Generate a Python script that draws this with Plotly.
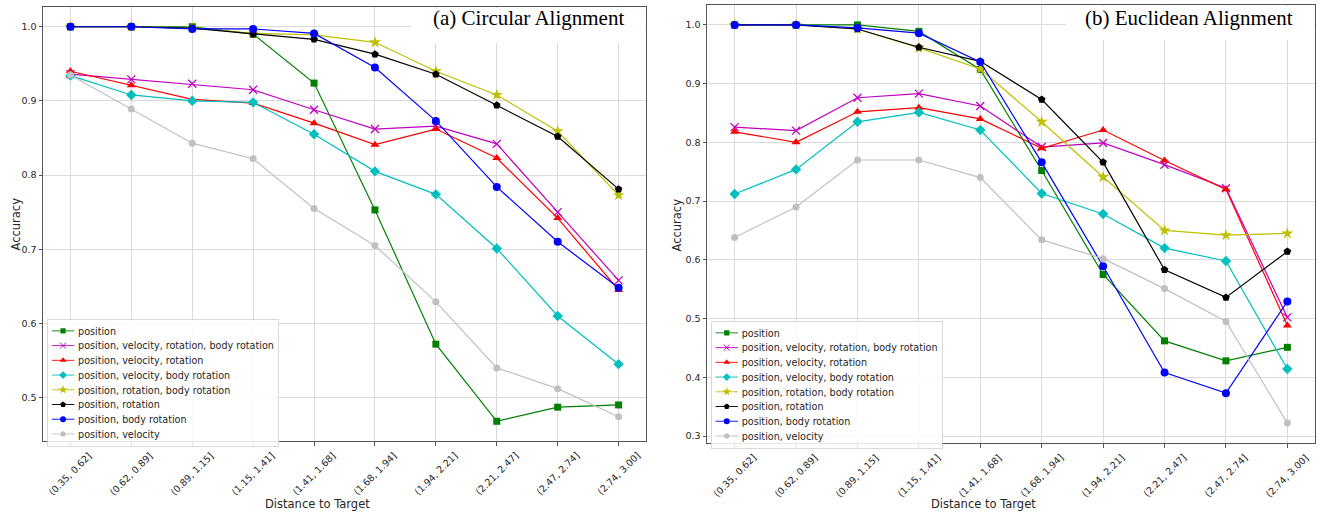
import plotly.graph_objects as go

categories = ["(0.35, 0.62]", "(0.62, 0.89]", "(0.89, 1.15]", "(1.15, 1.41]", "(1.41, 1.68]",
              "(1.68, 1.94]", "(1.94, 2.21]", "(2.21, 2.47]", "(2.47, 2.74]", "(2.74, 3.00]"]

series_names = ["position",
                "position, velocity, rotation, body rotation",
                "position, velocity, rotation",
                "position, velocity, body rotation",
                "position, rotation, body rotation",
                "position, rotation",
                "position, body rotation",
                "position, velocity"]

# (a) Circular Alignment
circ_position = [1.0, 1.0, 1.0, 0.990, 0.924, 0.753, 0.572, 0.468, 0.487, 0.490]
circ_pvrb = [0.936, 0.929, 0.923, 0.915, 0.888, 0.862, 0.866, 0.842, 0.750, 0.658]
circ_pvr = [0.940, 0.921, 0.902, 0.897, 0.870, 0.841, 0.862, 0.823, 0.742, 0.645]
circ_pvb = [0.934, 0.908, 0.900, 0.898, 0.855, 0.805, 0.774, 0.701, 0.610, 0.545]
circ_prb = [1.0, 1.0, 0.998, 0.991, 0.989, 0.979, 0.940, 0.908, 0.859, 0.773]
circ_pr = [1.0, 1.0, 0.998, 0.990, 0.983, 0.963, 0.936, 0.894, 0.852, 0.781]
circ_pb = [1.0, 1.0, 0.997, 0.997, 0.991, 0.945, 0.873, 0.784, 0.710, 0.648]
circ_pv = [0.935, 0.889, 0.843, 0.822, 0.755, 0.705, 0.629, 0.540, 0.512, 0.474]

# (b) Euclidean Alignment
eucl_position = [1.0, 1.0, 1.0, 0.989, 0.924, 0.752, 0.575, 0.462, 0.428, 0.451]
eucl_pvrb = [0.826, 0.820, 0.876, 0.883, 0.862, 0.792, 0.799, 0.762, 0.722, 0.502]
eucl_pvr = [0.818, 0.800, 0.852, 0.859, 0.840, 0.790, 0.821, 0.769, 0.720, 0.488]
eucl_pvb = [0.712, 0.754, 0.835, 0.851, 0.821, 0.713, 0.678, 0.620, 0.598, 0.414]
eucl_prb = [1.0, 1.0, 0.993, 0.961, 0.925, 0.835, 0.741, 0.650, 0.642, 0.645]
eucl_pr = [1.0, 1.0, 0.993, 0.962, 0.938, 0.873, 0.766, 0.583, 0.536, 0.614]
eucl_pb = [1.0, 1.0, 0.995, 0.986, 0.937, 0.766, 0.589, 0.408, 0.373, 0.529]
eucl_pv = [0.638, 0.690, 0.770, 0.770, 0.740, 0.634, 0.602, 0.551, 0.495, 0.322]

panel_titles = ["(a) Circular Alignment", "(b) Euclidean Alignment"]
x_title = "Distance to Target"
y_title = "Accuracy"

circ_series = [circ_position, circ_pvrb, circ_pvr, circ_pvb, circ_prb, circ_pr, circ_pb, circ_pv]
eucl_series = [eucl_position, eucl_pvrb, eucl_pvr, eucl_pvb, eucl_prb, eucl_pr, eucl_pb, eucl_pv]

colors = ["#008000", "#bf00bf", "#ff0000", "#00bfbf", "#bfbf00", "#000000", "#0000ff", "#c0c0c0"]
symbols = ["square", "x-thin-open", "triangle-up", "diamond", "star", "pentagon", "circle", "circle"]
sizes = [7, 8, 8, 8, 9, 8, 8, 7]

W, H = 1320, 514
FONT = "DejaVu Sans"
SPINE = "#555555"
GRID = "#dadada"
TXT = "#262626"

fig = go.Figure()

panels = [
    dict(series=circ_series, xa="x", ya="y", legend="legend"),
    dict(series=eucl_series, xa="x2", ya="y2", legend="legend2"),
]
for p in panels:
    for name, vals, c, s, sz in zip(series_names, p["series"], colors, symbols, sizes):
        is_open = s.endswith("open")
        fig.add_trace(go.Scatter(
            x=categories, y=vals, name=name, mode="lines+markers",
            xaxis=p["xa"], yaxis=p["ya"], legend=p["legend"],
            line=dict(color=c, width=1.2),
            marker=dict(symbol=s, size=sz, color=c,
                        line=dict(color=c, width=1.3 if is_open else 0)),
        ))

def px_x(v):
    return v / W

def px_y(v):
    return (H - v) / H

ax_common = dict(showline=True, mirror=True, linecolor=SPINE, linewidth=1,
                 showgrid=True, gridcolor=GRID, gridwidth=1, zeroline=False,
                 ticks="outside", ticklen=3.5, tickwidth=1, tickcolor=SPINE,
                 tickfont=dict(family=FONT, size=9.5, color=TXT))

L1 = (43, 646, 7, 441)   # left, right, top, bottom in px
L2 = (707, 1315, 5, 443)

fig.update_layout(
    width=W, height=H, autosize=False,
    margin=dict(l=0, r=0, t=0, b=0, pad=0),
    paper_bgcolor="white", plot_bgcolor="white",
    font=dict(family=FONT, color=TXT),
    xaxis=dict(ax_common, domain=[px_x(L1[0]), px_x(L1[1])], anchor="y",
               type="category", range=[-0.45, 9.45], showticklabels=False),
    yaxis=dict(ax_common, domain=[px_y(L1[3]), px_y(L1[2])], anchor="x",
               range=[0.4414, 1.0266], dtick=0.1, tick0=0, tickformat=".1f"),
    xaxis2=dict(ax_common, domain=[px_x(L2[0]), px_x(L2[1])], anchor="y2",
                type="category", range=[-0.45, 9.45], showticklabels=False),
    yaxis2=dict(ax_common, domain=[px_y(L2[3]), px_y(L2[2])], anchor="x2",
                range=[0.2881, 1.0339], dtick=0.1, tick0=0, tickformat=".1f"),
    legend=dict(x=px_x(47.3), y=px_y(319), xanchor="left", yanchor="top",
                bgcolor="rgba(255,255,255,0.85)", bordercolor="#cccccc", borderwidth=1,
                font=dict(family=FONT, size=12.8, color=TXT), tracegroupgap=0),
    legend2=dict(x=px_x(711), y=px_y(321), xanchor="left", yanchor="top",
                 bgcolor="rgba(255,255,255,0.85)", bordercolor="#cccccc", borderwidth=1,
                 font=dict(family=FONT, size=12.8, color=TXT), tracegroupgap=0),
    showlegend=True,
)

annotations = []
title_boxes = [
    dict(xa="x", ya="y", w=234, h=35, title=panel_titles[0], tx=0.8051, ty=0.9745,
         ylab_x=15.5, ylab_y=224, xlab_x=317.5),
    dict(xa="x2", ya="y2", w=248, h=34, title=panel_titles[1], tx=0.7920, ty=0.9700,
         ylab_x=676.5, ylab_y=225, xlab_x=983),
]
for tb in title_boxes:
    xa, ya = tb["xa"], tb["ya"]
    for cat in categories:
        annotations.append(dict(x=cat, xref=xa, y=0, yref=f"{ya} domain", yshift=-6,
                                xanchor="center", yanchor="top", textangle=-45,
                                text=cat, showarrow=False,
                                font=dict(family=FONT, size=9.5, color=TXT)))
    # white box hiding the grid behind the panel title
    annotations.append(dict(x=1, xref=f"{xa} domain", y=1, yref=f"{ya} domain",
                            xshift=-1, yshift=-1, xanchor="right", yanchor="top",
                            width=tb["w"], height=tb["h"], text=" ", showarrow=False,
                            bgcolor="white", borderpad=0, borderwidth=0))
    annotations.append(dict(x=tb["tx"], xref=f"{xa} domain", y=tb["ty"], yref=f"{ya} domain",
                            xanchor="center", yanchor="middle", text=tb["title"], showarrow=False,
                            font=dict(family="Liberation Serif", size=21, color="black")))
    annotations.append(dict(x=px_x(tb["ylab_x"]), xref="paper", y=px_y(tb["ylab_y"]), yref="paper",
                            xanchor="center", yanchor="middle", textangle=-90, text=y_title,
                            showarrow=False, font=dict(family=FONT, size=11.5, color=TXT)))
    annotations.append(dict(x=px_x(tb["xlab_x"]), xref="paper", y=px_y(503.5), yref="paper",
                            xanchor="center", yanchor="middle", text=x_title, showarrow=False,
                            font=dict(family=FONT, size=11.5, color=TXT)))

fig.update_layout(annotations=annotations)

post = """
try {
  document.body.style.margin = '0';
  document.body.style.padding = '0';
  document.body.style.overflow = 'hidden';
} catch (e) {}
var gd = document.getElementById('{plot_id}');
function scaleLegends(){
  try {
    gd.querySelectorAll('g.legend, g.legend2').forEach(function(g){
      var t = g.getAttribute('transform') || '';
      if (t.indexOf('scale') < 0) { g.setAttribute('transform', t + ' scale(0.75)'); }
    });
  } catch (e) {}
}
scaleLegends();
if (gd && gd.on) { gd.on('plotly_afterplot', scaleLegends); }
"""

fig.write_html("out.html", post_script=post, config={"displayModeBar": False})
